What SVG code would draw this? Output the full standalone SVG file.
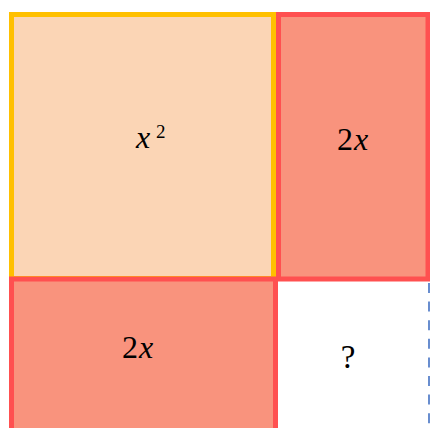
<svg xmlns="http://www.w3.org/2000/svg" width="430" height="428" viewBox="0 0 430 428">
<style>
.lbl{font-family:"Liberation Serif","DejaVu Serif",serif;font-size:32px;fill:#000}
.it{font-style:italic}
.red{fill:#F9937D;stroke:#FF5050;stroke-width:5}
.yel{fill:#FBD5B5;stroke:#FFC000;stroke-width:5}
</style>
<rect width="430" height="428" fill="#ffffff"/>
<g id="square">
<rect class="yel" x="11.5" y="14.5" width="262" height="264"/>
<text class="lbl it" x="136" y="148">x</text>
<text class="lbl" x="156" y="138" style="font-size:19px">2</text>
</g>
<g id="right-rect">
<rect class="red" x="278.5" y="14.5" width="149.5" height="264.5"/>
<text class="lbl" x="337" y="150">2<tspan class="it" dx="1">x</tspan></text>
</g>
<g id="bottom-rect">
<rect class="red" x="11.5" y="279" width="264" height="160"/>
<text class="lbl" x="122" y="358">2<tspan class="it" dx="1">x</tspan></text>
</g>
<g id="unknown">
<text class="lbl" x="348" y="368" text-anchor="middle" style="font-size:33px">?</text>
</g>
<g id="connectors">
<line x1="429" y1="283" x2="429" y2="428" stroke="#4472C4" stroke-width="1.6" stroke-dasharray="10 8.6"/>
</g>
</svg>
